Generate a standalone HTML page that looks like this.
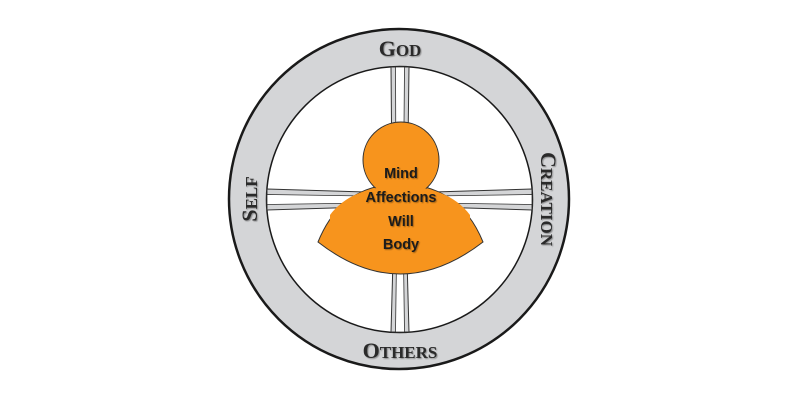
<!DOCTYPE html>
<html><head><style>
body{margin:0;background:#fff;}
svg{display:block}
.lbl{font-family:"Liberation Serif",serif;font-weight:bold;fill:#2a2a2a;}
.t{font-family:"Liberation Sans",sans-serif;font-weight:bold;font-size:14.5px;fill:#1a1a1a;text-anchor:middle;}
</style></head><body>
<svg width="800" height="400" viewBox="0 0 800 400">
<defs><filter id="sh"><feDropShadow dx="1" dy="1" stdDeviation="0.6" flood-color="#000" flood-opacity="0.35"/></filter></defs>
<circle cx="399" cy="199" r="170" fill="#d4d5d7" stroke="#1a1a1a" stroke-width="2.5"/>
<circle cx="399.5" cy="199.5" r="133" fill="#fff" stroke="#1a1a1a" stroke-width="1.5"/>
<path d="M391,67 L393,300 L406,300 L409,67 Z" fill="#d4d5d7" stroke="#333" stroke-width="1"/>
<path d="M395.5,67 L396.5,300 L402.5,300 L404.5,67 Z" fill="#fff" stroke="#333" stroke-width="0.8"/>
<path d="M393,260 L391,332 L409,332 L407,260 Z" fill="#d4d5d7" stroke="#333" stroke-width="1"/>
<path d="M396.5,260 L395.5,332 L404.5,332 L403.5,260 Z" fill="#fff" stroke="#333" stroke-width="0.8"/>
<path d="M267,189 L400,193 L400,206 L267,210 Z" fill="#d4d5d7" stroke="#333" stroke-width="1"/>
<path d="M267,194.5 L400,196.5 L400,202.5 L267,204.5 Z" fill="#fff" stroke="#333" stroke-width="0.8"/>
<path d="M532,189 L400,193 L400,206 L532,210 Z" fill="#d4d5d7" stroke="#333" stroke-width="1"/>
<path d="M532,194.5 L400,196.5 L400,202.5 L532,204.5 Z" fill="#fff" stroke="#333" stroke-width="0.8"/>
<path d="M318,242 C335,200 365,184 400,184 C435,184 466,200 483,242 Q400,306 318,242 Z" fill="#f7941d" stroke="#333" stroke-width="1"/>
<circle cx="401" cy="160" r="38" fill="#f7941d" stroke="#333" stroke-width="1"/>
<path d="M330,215 C345,195 370,186 400,186 C430,186 455,195 470,215 L470,230 L330,230 Z" fill="#f7941d"/>
<g filter="url(#sh)">
<text class="t" x="401" y="178">Mind</text>
<text class="t" x="401" y="202">Affections</text>
<text class="t" x="401" y="226">Will</text>
<text class="t" x="401" y="249">Body</text>
</g>
<g filter="url(#sh)">
<text class="lbl" x="400" y="56" text-anchor="middle"><tspan font-size="22">G</tspan><tspan font-size="17">OD</tspan></text>
<text class="lbl" x="400" y="358" text-anchor="middle"><tspan font-size="22">O</tspan><tspan font-size="17">THERS</tspan></text>
<text class="lbl" transform="translate(257,199) rotate(-90)" text-anchor="middle"><tspan font-size="22">S</tspan><tspan font-size="17">ELF</tspan></text>
<text class="lbl" transform="translate(541,199) rotate(90)" text-anchor="middle"><tspan font-size="22">C</tspan><tspan font-size="17">REATION</tspan></text>
</g>
</svg>
</body></html>
